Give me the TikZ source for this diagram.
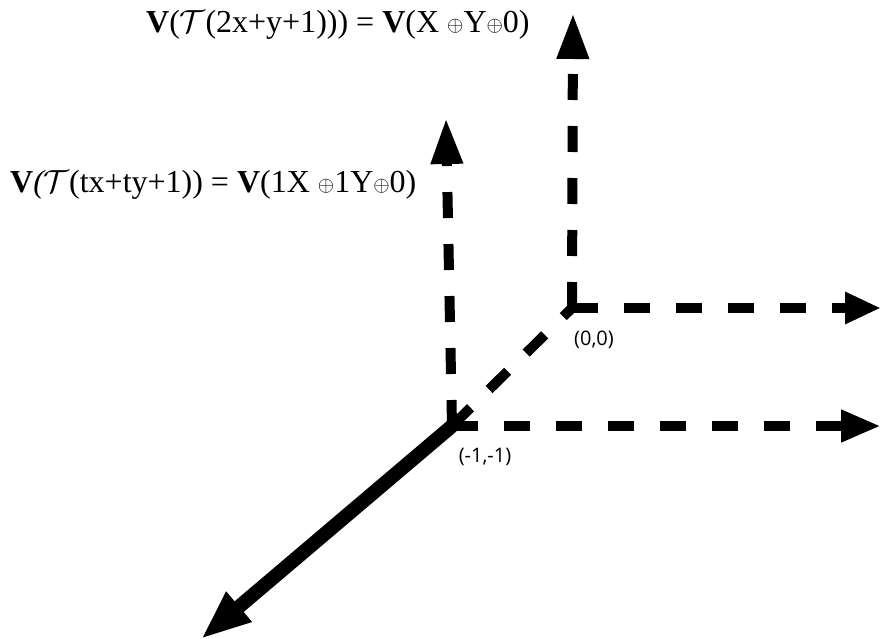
\documentclass[tikz,border=0pt]{standalone}
\usepackage{fix-cm}
\usepackage{fontspec}
\setmainfont{Liberation Serif}
\newfontfamily\labfont{Open Sans}
\usetikzlibrary{arrows.meta}
\newcommand{\smallop}{\raisebox{1.5pt}{\fontsize{21}{21}\selectfont$\oplus$}}
\tikzset{
  axis/.style={line width=10pt, dash pattern=on 26pt off 26pt},
  headA/.style={-{Triangle[length=46pt,width=30pt]}},
  eqlabel/.style={font=\fontsize{32}{36}\selectfont, inner sep=0pt, anchor=base west},
  ptlabel/.style={font=\labfont\fontsize{20}{22}\selectfont, inner sep=0pt}
}
\begin{document}
\begin{tikzpicture}[x=1pt,y=-1pt]
\useasboundingbox (0,0) rectangle (881,639);
\coordinate (O) at (572,308);
\coordinate (M) at (452,426);
\coordinate (TU) at (573,13);
\coordinate (TR) at (881,308);
\coordinate (LU) at (446,118);
\coordinate (LR) at (881,426);
\coordinate (D) at (201,639);
% dashed axes
\draw[axis, headA] (O) -- (TU);
\draw[axis, -{Triangle[length=36pt,width=30pt]}] (O) -- (TR);
\draw[axis, headA] (M) -- (LU);
\draw[axis, -{Triangle[length=40pt,width=30pt]}] (M) -- (LR);
\draw[axis] (M) -- (O);
% thick solid arrow
\draw[line width=14pt, -{Triangle[length=50pt,width=36pt]}] (M) -- (D);
% labels
\node[ptlabel] (l0) at (594,340) {(0,0)};
\node[ptlabel] (l1) at (485,457) {(-1,-1)};
\node[eqlabel] (e1) at (146,33) {\textbf{V}($\mathcal{T}$(2x+y+1))) = \textbf{V}(X \smallop Y\smallop 0)};
\node[eqlabel] (e2) at (10,193) {\textbf{V}\textit{(}\kern-2pt$\mathcal{T}$(tx+ty+1)) = \textbf{V}(1X \smallop 1Y\smallop 0)};
\end{tikzpicture}
\end{document}
